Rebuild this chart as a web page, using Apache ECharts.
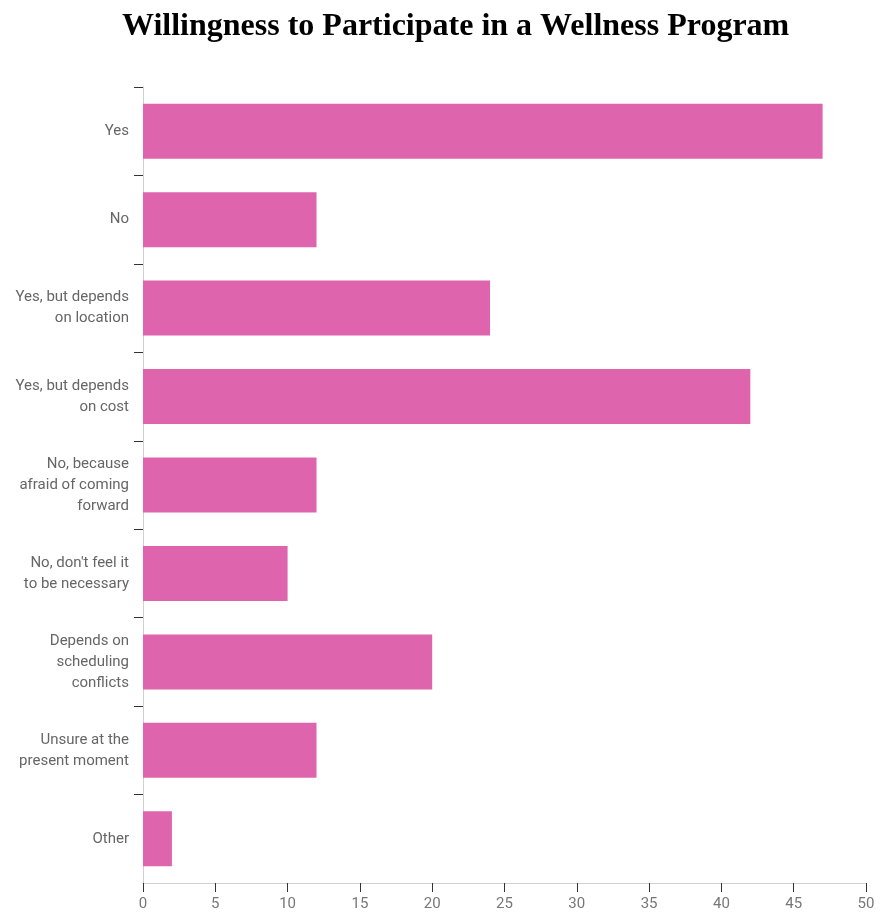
<!DOCTYPE html>
<html>
<head>
<meta charset="utf-8">
<script src="https://cdn.jsdelivr.net/npm/echarts@6/dist/echarts.min.js"></script>
<style>
  html, body { margin: 0; padding: 0; background: #fff; }
  #chart { width: 885px; height: 912px; }
</style>
</head>
<body>
<div id="chart"></div>
<script>
// Survey responses: willingness to join a wellness program
const categories = [
  'Yes',
  'No',
  'Yes, but depends\non location',
  'Yes, but depends\non cost',
  'No, because\nafraid of coming\nforward',
  "No, don't feel it\nto be necessary",
  'Depends on\nscheduling\nconflicts',
  'Unsure at the\npresent moment',
  'Other'
];
const responses = [47, 12, 24, 42, 12, 10, 20, 12, 2];
const xTicks = [0, 5, 10, 15, 20, 25, 30, 35, 40, 45, 50];

// Boundary slots between category bands, used only to place the separator ticks
const bandEdges = categories.map(() => '').concat(['']);

const chart = echarts.init(document.getElementById('chart'), null, { renderer: 'canvas' });

chart.setOption({
  animation: false,
  backgroundColor: '#ffffff',
  title: {
    text: 'Willingness to Participate in a Wellness Program',
    left: 117,
    top: 6,
    textStyle: {
      fontFamily: '"Liberation Serif", "Times New Roman", serif',
      fontWeight: 'bold',
      fontSize: 32,
      color: '#000'
    }
  },
  grid: { left: 143, right: 19, top: 87, bottom: 29, containLabel: false },
  xAxis: {
    type: 'value',
    min: xTicks[0],
    max: xTicks[xTicks.length - 1],
    interval: 5,
    axisLine: { show: true, lineStyle: { color: '#d0d0d0', width: 1 } },
    axisTick: {
      show: true,
      length: 9,
      lineStyle: { color: '#333', width: 1 },
      interval: function (index) { return index !== 0; }
    },
    axisLabel: {
      color: '#777',
      fontFamily: 'Roboto, sans-serif',
      fontSize: 15,
      margin: 14,
      formatter: function (v) { return xTicks.indexOf(v) >= 0 ? String(v) : ''; }
    },
    splitLine: { show: false }
  },
  yAxis: [{
    type: 'category',
    inverse: true,
    data: categories,
    axisLine: { show: true, lineStyle: { color: '#d0d0d0', width: 1 } },
    axisTick: { show: false },
    axisLabel: {
      color: '#666',
      fontFamily: 'Roboto, sans-serif',
      fontSize: 15,
      lineHeight: 21,
      margin: 14,
      align: 'right'
    },
    splitLine: { show: false }
  }, {
    type: 'category',
    position: 'left',
    inverse: true,
    boundaryGap: false,
    data: bandEdges,
    axisLine: { show: false },
    axisLabel: { show: false },
    axisTick: {
      show: true,
      length: 9,
      lineStyle: { color: '#333', width: 1 },
      interval: function (index) { return index < categories.length; }
    },
    splitLine: { show: false }
  }],
  series: [{
    type: 'bar',
    yAxisIndex: 0,
    data: responses,
    barWidth: 55,
    itemStyle: { color: '#DF64AE' }
  }]
});
</script>
</body>
</html>
